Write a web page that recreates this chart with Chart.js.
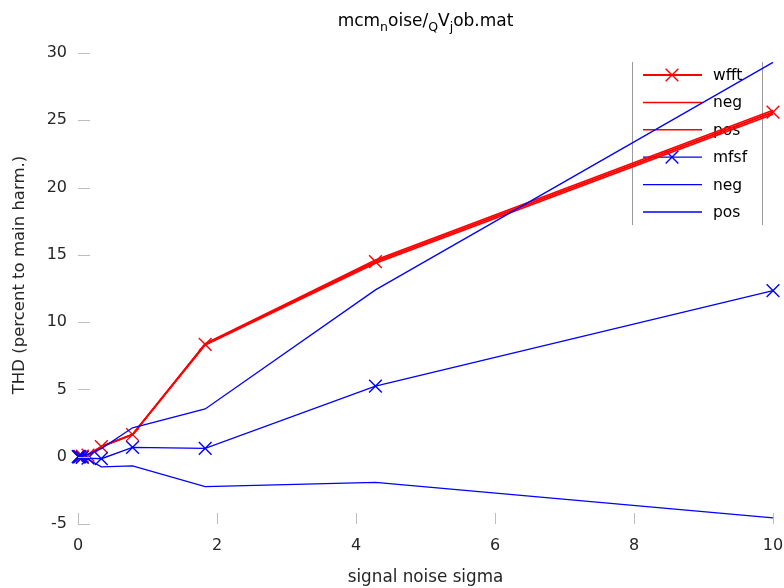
<!DOCTYPE html>
<html>
<head>
<meta charset="utf-8">
<script src="https://cdn.jsdelivr.net/npm/chart.js@4/dist/chart.umd.min.js"></script>
<style>
  html, body { margin: 0; padding: 0; background: #fff; }
  canvas { display: block; }
</style>
</head>
<body>
<canvas id="thd" width="784" height="588"></canvas>
<script>
// noise levels and THD results (percent to main harmonic)
const sigma   = [0.005, 0.011, 0.026, 0.062, 0.144, 0.336, 0.785, 1.83, 4.28, 10];
const wfft    = [0.0, 0.01, 0.02, 0.05, 0.12, 0.75, 1.65, 8.35, 14.5, 25.6];
const wfftNeg = [0.0, 0.01, 0.02, 0.05, 0.12, 0.75, 1.65, 8.30, 14.38, 25.45];
const wfftPos = [0.0, 0.01, 0.02, 0.05, 0.12, 0.75, 1.65, 8.40, 14.62, 25.75];
const mfsf    = [0.0, 0.0, -0.02, -0.05, -0.1, -0.15, 0.7, 0.62, 5.25, 12.35];
const mfsfNeg = [0.0, -0.02, -0.05, -0.1, -0.2, -0.75, -0.68, -2.22, -1.9, -4.55];
const mfsfPos = [0.0, 0.02, 0.05, 0.1, 0.2, 0.6, 2.15, 3.55, 12.4, 29.3];
const legendLabels = ['wfft', 'neg', 'pos', 'mfsf', 'neg', 'pos'];
const titleParts = [['mcm', false], ['n', true], ['oise/', false], ['Q', true], ['V', false], ['j', true], ['ob.mat', false]];
const yLabel = 'THD (percent to main harm.)';

const FONT = '"DejaVu Sans", "Liberation Sans", sans-serif';
const RED = 'rgb(255, 0, 0)';
const BLUE = 'rgb(0, 0, 255)';

function pts(ys) {
    return sigma.map((x, i) => ({ x: x, y: ys[i] }));
}

function series(label, ys, color, width, marker, order) {
    return {
        label: label,
        data: pts(ys),
        borderColor: color,
        backgroundColor: color,
        borderWidth: width,
        pointStyle: 'crossRot',
        pointRadius: marker ? 9 : 0,
        pointBorderWidth: 1.4,
        pointHoverRadius: marker ? 9 : 0,
        tension: 0,
        clip: false,
        order: order,
        hasMarker: marker
    };
}

// short tick marks drawn inside the plot box
const innerTicks = {
    id: 'innerTicks',
    afterDraw(chart) {
        const c = chart.ctx, a = chart.chartArea;
        const xs = chart.scales.x, ys = chart.scales.y;
        c.save();
        c.strokeStyle = '#bdbdbd';
        c.lineWidth = 1;
        xs.ticks.forEach(t => {
            const px = Math.round(xs.getPixelForValue(t.value)) + 0.5;
            c.beginPath();
            c.moveTo(px, a.bottom);
            c.lineTo(px, a.bottom - 11);
            c.stroke();
        });
        ys.ticks.forEach(t => {
            const py = Math.round(ys.getPixelForValue(t.value)) + 0.5;
            c.beginPath();
            c.moveTo(a.left, py);
            c.lineTo(a.left + 12, py);
            c.stroke();
        });
        c.restore();
    }
};

// title with subscript pieces, plus the rotated y label
const subTitle = {
    id: 'subTitle',
    afterDraw(chart) {
        const c = chart.ctx, a = chart.chartArea;
        const big = '17px ' + FONT, small = '12.5px ' + FONT;
        c.save();
        c.fillStyle = '#000';
        c.textBaseline = 'alphabetic';
        let total = 0;
        titleParts.forEach(([s, sub]) => { c.font = sub ? small : big; total += c.measureText(s).width; });
        let x = (a.left + a.right) / 2 - total / 2;
        const base = 26;
        titleParts.forEach(([s, sub]) => {
            c.font = sub ? small : big;
            c.fillText(s, x, sub ? base + 5 : base);
            x += c.measureText(s).width;
        });

        c.translate(20, 275);
        c.rotate(-Math.PI / 2);
        c.font = '16.5px ' + FONT;
        c.fillStyle = '#262626';
        c.textAlign = 'center';
        c.textBaseline = 'middle';
        c.fillText(yLabel, 0, 0);
        c.restore();
    }
};

// legend box with open top and bottom, drawn under the lines
const boxLegend = {
    id: 'boxLegend',
    beforeDatasetsDraw(chart) {
        const c = chart.ctx;
        const left = 632, right = 762, top = 62, bottom = 225;
        c.save();
        c.strokeStyle = '#9a9a9a';
        c.lineWidth = 1;
        c.beginPath();
        c.moveTo(left + 0.5, top); c.lineTo(left + 0.5, bottom);
        c.moveTo(right + 0.5, top); c.lineTo(right + 0.5, bottom);
        c.stroke();
        chart.data.datasets.forEach((ds, i) => {
            const y = 75 + i * 27.4;
            c.strokeStyle = ds.borderColor;
            c.lineWidth = ds.borderWidth;
            c.beginPath();
            c.moveTo(643, y); c.lineTo(702, y);
            c.stroke();
            if (ds.hasMarker) {
                const r = 9 * Math.SQRT1_2;
                c.lineWidth = 1.4;
                c.beginPath();
                c.moveTo(672 - r, y - r); c.lineTo(672 + r, y + r);
                c.moveTo(672 - r, y + r); c.lineTo(672 + r, y - r);
                c.stroke();
            }
            c.fillStyle = '#000';
            c.font = '15.5px ' + FONT;
            c.textBaseline = 'middle';
            c.fillText(legendLabels[i], 713, y + 1);
        });
        c.restore();
    }
};

const data = {
    datasets: [
        series('wfft', wfft, RED, 2, true, 2),
        series('neg', wfftNeg, RED, 1.5, false, 2),
        series('pos', wfftPos, RED, 1.5, false, 2),
        series('mfsf', mfsf, BLUE, 1.3, true, 1),
        series('neg', mfsfNeg, BLUE, 1.3, false, 1),
        series('pos', mfsfPos, BLUE, 1.3, false, 1)
    ]
};

const options = {
    responsive: false,
    animation: false,
    events: [],
    layout: { padding: { top: 53, right: 11, left: 0, bottom: 0 } },
    plugins: {
        legend: { display: false },
        title: { display: false },
        tooltip: { enabled: false }
    },
    scales: {
        x: {
            type: 'linear',
            min: 0,
            max: 10,
            afterFit(scale) {
                scale.height = 64;
                scale.paddingLeft = 0;
                scale.paddingRight = 0;
            },
            grid: { display: false, drawTicks: false },
            border: { display: false },
            ticks: { stepSize: 2, padding: 12, color: '#262626', font: { family: FONT, size: 16 } },
            title: {
                display: true,
                text: 'signal noise sigma',
                color: '#262626',
                font: { family: FONT, size: 16.8 },
                padding: { top: 0, bottom: 0 }
            }
        },
        y: {
            min: -5,
            max: 30,
            afterFit(scale) { scale.width = 78; },
            grid: { display: false, drawTicks: false },
            border: { display: false },
            ticks: { stepSize: 5, padding: 11, color: '#262626', font: { family: FONT, size: 16 } }
        }
    }
};

const ctx = document.getElementById('thd').getContext('2d');
const myChart = new Chart(ctx, {
    type: 'line',
    data: data,
    options: options,
    plugins: [boxLegend, innerTicks, subTitle]
});
</script>
</body>
</html>
